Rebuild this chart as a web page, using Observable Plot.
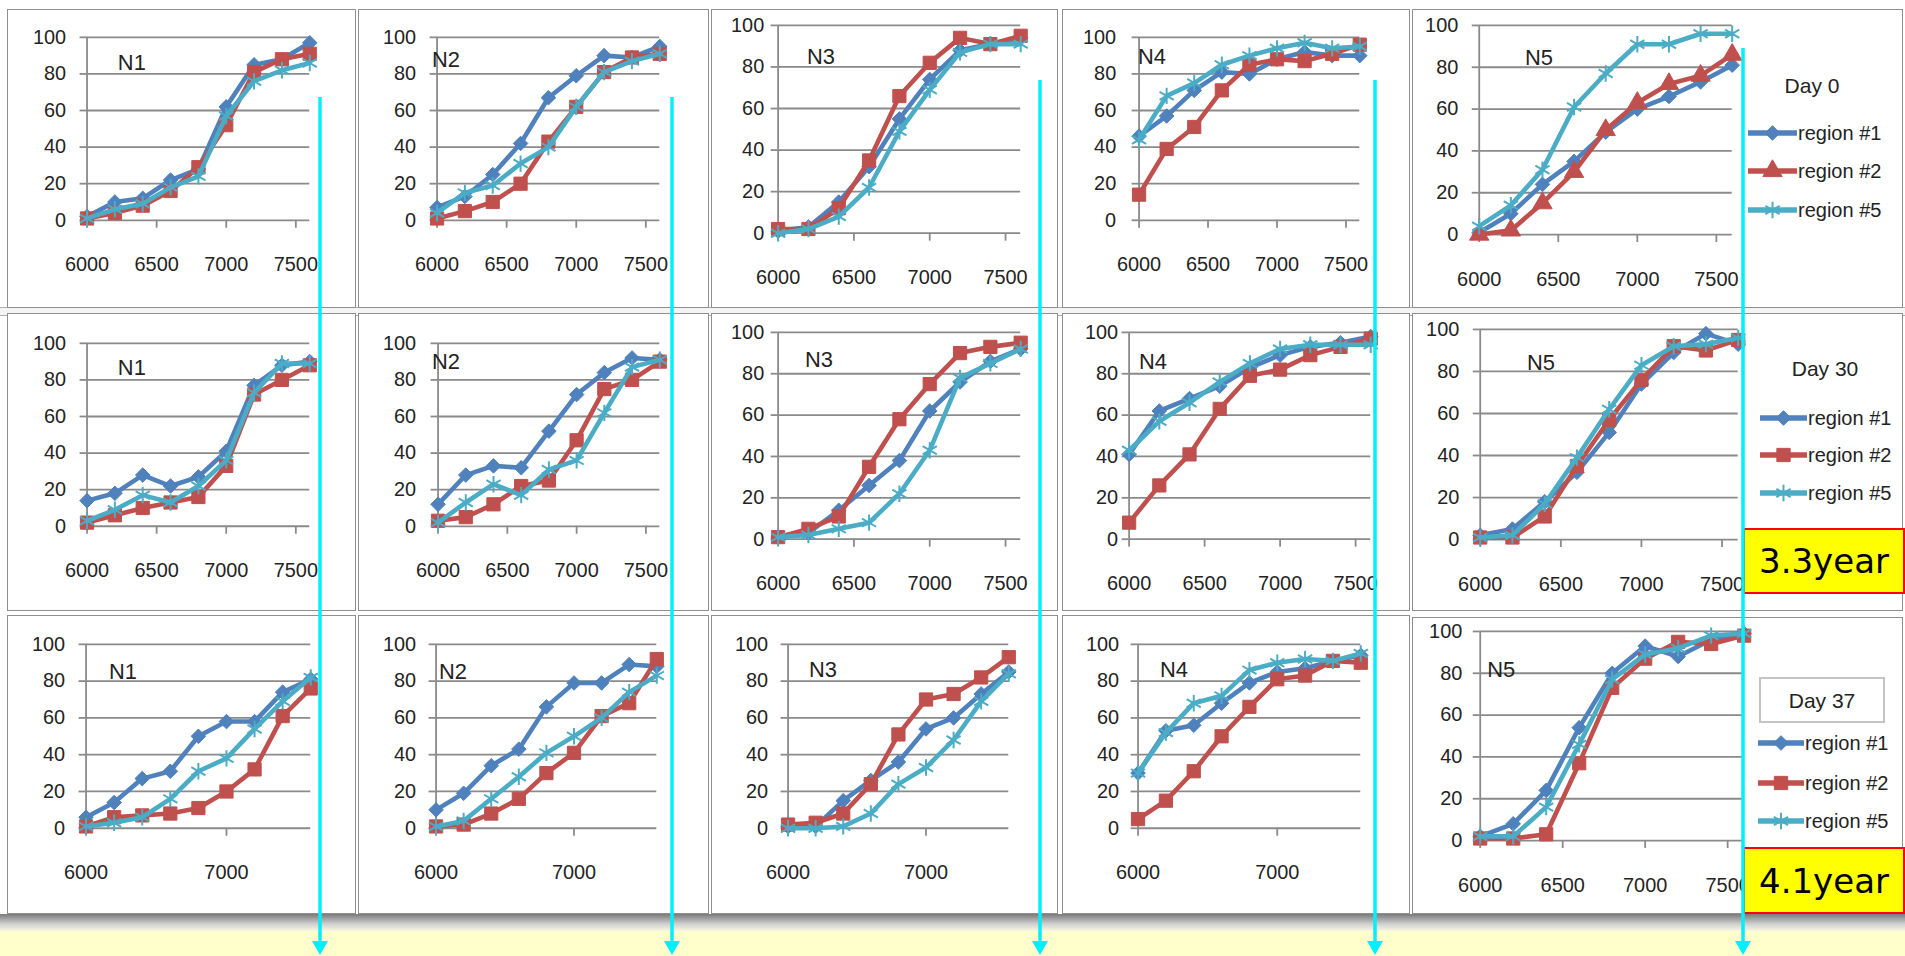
<!DOCTYPE html>
<html><head><meta charset="utf-8">
<script src="https://cdn.jsdelivr.net/npm/d3@7"></script>
<script src="https://cdn.jsdelivr.net/npm/@observablehq/plot@0.6"></script>
<style>
html,body{margin:0;padding:0;background:#fff;}
#stage{position:relative;width:1905px;height:956px;overflow:hidden;background:#fff;font-family:"Liberation Sans",Arial,sans-serif;}
.panel{position:absolute;background:#fff;border:1px solid #8f8f8f;box-sizing:border-box;overflow:visible;}
.panel svg{position:absolute;left:-1px;top:-1px;overflow:visible;}
.stamp{position:absolute;background:#ffff00;border:2px solid #ff0000;box-sizing:border-box;display:flex;align-items:center;justify-content:center;font-family:"DejaVu Sans",sans-serif;font-size:34px;color:#000;}
</style></head>
<body><div id="stage"></div>
<script>
// ---------------- data ----------------
const xValues = [6000, 6200, 6400, 6600, 6800, 7000, 7200, 7400, 7600];
const seriesNames = ["region #1", "region #2", "region #5"];
const sites = ["N1", "N2", "N3", "N4", "N5"];
const dayLabels = ["Day 0", "Day 30", "Day 37"];
const stampLabels = ["3.3year", "4.1year"];
const yTicks = [0, 20, 40, 60, 80, 100];
const xTicksWide = [6000, 6500, 7000, 7500];
const xTicksNarrow = [6000, 7000];

// Day 0 (rows: region #1, region #2, region #5)
const d0_N1 = [[2,10,12,22,28,62,85,88,97],[1,4,8,16,29,52,81,88,91],[1,6,9,18,24,57,76,82,86]];
const d0_N2 = [[7,13,25,42,67,79,90,89,95],[1,5,10,20,43,62,81,89,91],[4,15,19,31,40,62,81,87,91]];
const d0_N3 = [[1,3,15,32,55,74,88,91,94],[2,2,12,35,66,82,94,91,95],[0,2,8,22,49,69,87,91,91]];
const d0_N4 = [[46,57,71,81,80,88,92,90,90],[14,39,51,71,85,88,87,91,96],[44,68,75,85,90,94,97,94,95]];
const d0_N5 = [[1,10,24,35,49,60,66,73,81],[0,2,15,30,50,63,72,76,86],[4,14,31,61,77,91,91,96,96]];
// Day 30
const d30_N1 = [[14,18,28,22,27,41,77,88,90],[2,6,10,13,16,33,72,80,88],[3,9,17,13,22,36,73,89,89]];
const d30_N2 = [[12,28,33,32,52,72,84,92,91],[3,5,12,22,25,47,75,80,90],[2,13,23,17,31,36,62,87,91]];
const d30_N3 = [[1,3,14,26,38,62,76,86,92],[1,5,11,35,58,75,90,93,95],[1,2,5,8,22,43,78,85,92]];
const d30_N4 = [[41,62,68,74,83,89,93,95,98],[8,26,41,63,79,82,89,93,97],[43,57,66,76,85,92,94,94,94]];
const d30_N5 = [[2,5,18,32,51,74,89,98,93],[1,1,11,35,57,76,92,90,95],[1,2,17,39,62,83,92,93,96]];
// Day 37
const d37_N1 = [[6,14,27,31,50,58,58,74,81],[1,6,7,8,11,20,32,61,76],[1,3,6,16,31,38,54,69,82]];
const d37_N2 = [[10,19,34,43,66,79,79,89,88],[1,2,8,16,30,41,61,68,92],[1,4,16,28,41,50,60,74,83]];
const d37_N3 = [[1,1,15,26,36,54,60,73,85],[2,3,8,24,51,70,73,82,93],[0,0,1,8,24,33,48,69,84]];
const d37_N4 = [[30,53,56,68,79,85,87,91,94],[5,15,31,50,66,81,83,91,90],[30,52,68,72,86,90,92,91,95]];
const d37_N5 = [[2,8,24,54,80,93,88,96,99],[1,1,3,37,73,87,95,94,98],[2,2,16,46,77,89,92,98,99]];

const panelData = [
  [d0_N1, d0_N2, d0_N3, d0_N4, d0_N5],
  [d30_N1, d30_N2, d30_N3, d30_N4, d30_N5],
  [d37_N1, d37_N2, d37_N3, d37_N4, d37_N5]
];

// ---------------- styling / layout ----------------
const seriesColors = ["#4F81BD", "#C0504D", "#4BACC6"];
const gridColor = "#8a8a8a";
const textColor = "#232323";

// frame geometry for each panel: [left, top, w, h, x0, x1, y100, y0, labelDx, labelDy, yGap]
const frames = [
  [[7,9,349,299, 87,311,37,221, 31,26,22],[358,9,351,299, 437,661,37,221, -5,23,22],[711,9,347,299, 778,1022,25,234, 29,32,15],[1062,9,348,299, 1139,1361,37,221, -1,20,24],[1412,9,491,299, 1479,1733,25,235, 46,33,22]],
  [[7,313,349,298, 87,311,343,527, 31,25,22],[358,313,351,298, 438,661,343,527, -6,19,23],[711,313,347,298, 778,1022,332,540, 27,28,15],[1062,313,348,298, 1129,1372,332,540, 10,30,12],[1412,313,491,298, 1480,1739,329,540, 47,34,22]],
  [[7,615,349,299, 86,312,644,829, 23,28,22],[358,615,351,299, 436,658,644,829, 3,28,21],[711,615,347,299, 788,1010,644,829, 21,26,21],[1062,615,348,299, 1138,1362,644,829, 22,26,20],[1412,617,491,297, 1480,1745,631,841, 7,39,19]]
];

const symbolFor = (row, col, i) => {
  if (i === 0) return "diamond2";
  if (i === 2) return "asterisk";
  return (row === 0 && col === 4) ? "triangle" : "square";
};
const rFor = s => s === "diamond2" ? 6.6 : s === "square" ? 7.5 : s === "triangle" ? 7.2 : 7.8;

const stage = document.getElementById("stage");

// background spreadsheet strip between rows
const strip = document.createElement("div");
strip.style.cssText = "position:absolute;left:0;top:307px;width:1905px;height:7px;border-top:1px solid #b0b0b0;border-bottom:1px solid #b0b0b0;background:#f4f4f4;";
stage.appendChild(strip);

function drawPanel(row, col) {
  const [left, top, w, h, x0, x1, y100, y0, ldx, ldy, yGap] = frames[row][col];
  const vals = panelData[row][col];
  const xt = (row === 2 && col < 4) ? xTicksNarrow : xTicksWide;
  const marks = [
    Plot.gridY(yTicks, {stroke: gridColor, strokeOpacity: 1, strokeWidth: 1.8}),
    Plot.ruleX([6000], {stroke: gridColor, strokeWidth: 1.8}),
    Plot.axisY(yTicks, {tickSize: 7, tickPadding: Math.max(2, yGap - 8), stroke: gridColor, strokeWidth: 1.8, fill: textColor, tickFormat: "d", label: null}),
    Plot.axisX(xt, {tickSize: 8, tickPadding: 29, stroke: gridColor, strokeWidth: 1.8, fill: textColor, tickFormat: "d", label: null})
  ];
  seriesNames.forEach((name, i) => {
    const rows = vals[i].map((v, j) => ({x: xValues[j], y: v, s: name}));
    const sym = symbolFor(row, col, i);
    marks.push(Plot.line(rows, {x: "x", y: "y", stroke: seriesColors[i], strokeWidth: 4.6, strokeLinejoin: "round", strokeLinecap: "round"}));
    if (sym === "asterisk") {
      marks.push(Plot.dot(rows, {x: "x", y: "y", symbol: sym, r: rFor(sym), stroke: seriesColors[i], strokeWidth: 2, fill: "none"}));
    } else {
      marks.push(Plot.dot(rows, {x: "x", y: "y", symbol: sym, r: rFor(sym), fill: seriesColors[i], stroke: seriesColors[i], strokeWidth: 1}));
    }
  });
  marks.push(Plot.text([sites[col]], {text: d => d, frameAnchor: "top-left", textAnchor: "start", lineAnchor: "middle", dx: ldx, dy: ldy, fontSize: 22, fill: textColor}));

  const svg = Plot.plot({
    width: w, height: h,
    marginLeft: x0 - left, marginRight: left + w - x1,
    marginTop: y100 - top, marginBottom: top + h - y0,
    x: {domain: [6000, 7600]},
    y: {domain: [0, 100]},
    style: {fontFamily: "'Liberation Sans', Arial, sans-serif", fontSize: "20px", background: "transparent", color: textColor, overflow: "visible"},
    marks
  });
  const div = document.createElement("div");
  div.className = "panel";
  div.style.left = left + "px"; div.style.top = top + "px";
  div.style.width = w + "px"; div.style.height = h + "px";
  div.appendChild(svg);
  stage.appendChild(div);
}

for (let r = 0; r < 3; r++) for (let c = 0; c < 5; c++) drawPanel(r, c);

// ---------------- legends ----------------
const legendLayout = [
  {title: [1812, 85], line: [1748, 1797], textX: 1798, ys: [133, 171, 210], box: null},
  {title: [1825, 368], line: [1760, 1807], textX: 1808, ys: [418, 455, 493], box: null},
  {title: [1822, 700], line: [1758, 1804], textX: 1805, ys: [743, 783, 821], box: [1760, 678, 124, 44]}
];
const legSvg = d3.select(stage).append("svg")
  .attr("width", 1905).attr("height", 956)
  .style("position", "absolute").style("left", 0).style("top", 0).style("pointer-events", "none");
const symMap = {diamond2: d3.symbolDiamond2, square: d3.symbolSquare, triangle: d3.symbolTriangle, asterisk: d3.symbolAsterisk};
legendLayout.forEach((L, row) => {
  if (L.box) {
    legSvg.append("rect").attr("x", L.box[0]).attr("y", L.box[1]).attr("width", L.box[2]).attr("height", L.box[3])
      .attr("fill", "#fff").attr("stroke", "#c4c4c4").attr("stroke-width", 2);
  }
  legSvg.append("text").attr("x", L.title[0]).attr("y", L.title[1]).attr("text-anchor", "middle").attr("dominant-baseline", "central")
    .attr("font-family", "'Liberation Sans', Arial, sans-serif").attr("font-size", 21).attr("fill", textColor).text(dayLabels[row]);
  seriesNames.forEach((name, i) => {
    const y = L.ys[i];
    const sym = symbolFor(row, 4, i);
    legSvg.append("line").attr("x1", L.line[0]).attr("x2", L.line[1]).attr("y1", y).attr("y2", y)
      .attr("stroke", seriesColors[i]).attr("stroke-width", 5.5);
    const r = rFor(sym);
    legSvg.append("path").attr("d", d3.symbol(symMap[sym], Math.PI * r * r)())
      .attr("transform", `translate(${(L.line[0] + L.line[1]) / 2},${y})`)
      .attr("fill", sym === "asterisk" ? "none" : seriesColors[i])
      .attr("stroke", seriesColors[i]).attr("stroke-width", sym === "asterisk" ? 2 : 1);
    legSvg.append("text").attr("x", L.textX).attr("y", y).attr("dominant-baseline", "central")
      .attr("font-family", "'Liberation Sans', Arial, sans-serif").attr("font-size", 20).attr("fill", textColor).text(name);
  });
});

// ---------------- stamps ----------------
const stampBoxes = [[1743, 528, 162, 66], [1743, 847, 162, 67]];
stampBoxes.forEach((b, i) => {
  const s = document.createElement("div");
  s.className = "stamp";
  s.style.left = b[0] + "px"; s.style.top = b[1] + "px"; s.style.width = b[2] + "px"; s.style.height = b[3] + "px";
  s.textContent = stampLabels[i];
  stage.appendChild(s);
});

// ---------------- bottom band ----------------
const shadow = document.createElement("div");
shadow.style.cssText = "position:absolute;left:0;top:914px;width:1905px;height:18px;background:linear-gradient(#7a7a7a,#cfcfcf 55%,#fffde0);";
stage.appendChild(shadow);
const band = document.createElement("div");
band.style.cssText = "position:absolute;left:0;top:932px;width:1905px;height:24px;background:#ffffcc;";
stage.appendChild(band);

// ---------------- cyan arrows ----------------
const arrowX = [320, 672, 1040, 1375, 1743];
const arrowTop = [97, 97, 80, 80, 48];
const arrSvg = d3.select(stage).append("svg")
  .attr("width", 1905).attr("height", 956)
  .style("position", "absolute").style("left", 0).style("top", 0).style("pointer-events", "none");
arrowX.forEach((x, i) => {
  arrSvg.append("line").attr("x1", x).attr("x2", x).attr("y1", arrowTop[i]).attr("y2", 946)
    .attr("stroke", "#00f0ff").attr("stroke-width", 3.5);
  arrSvg.append("path").attr("d", `M${x - 8},941 L${x + 8},941 L${x},955 Z`).attr("fill", "#00f0ff");
});
</script>
</body></html>
